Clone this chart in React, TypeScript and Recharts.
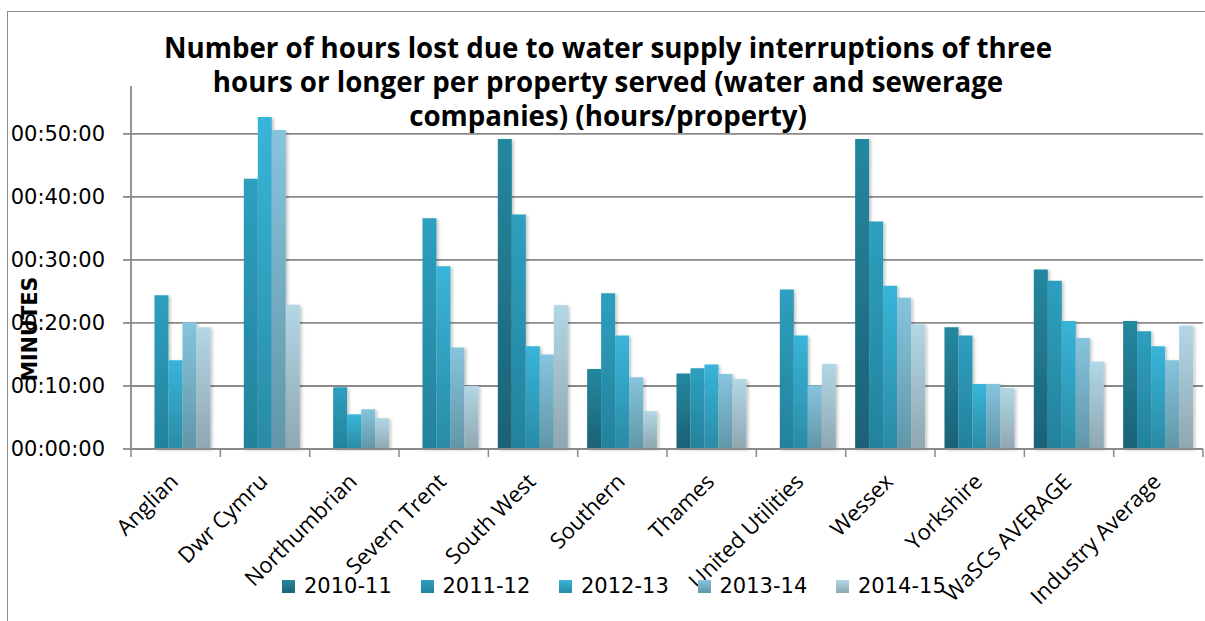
import { BarChart, Bar, XAxis, YAxis, CartesianGrid } from 'recharts';

const companies = [
  'Anglian', 'Dwr Cymru', 'Northumbrian', 'Severn Trent', 'South West', 'Southern',
  'Thames', 'United Utilities', 'Wessex', 'Yorkshire', 'WaSCs AVERAGE', 'Industry Average',
];

// minutes per property
const y2010 = [null, null, null, null, 49.2, 12.7, 12.0, null, 49.2, 19.3, 28.5, 20.3];
const y2011 = [24.4, 42.9, 9.8, 36.6, 37.2, 24.7, 12.8, 25.3, 36.1, 18.0, 26.7, 18.7];
const y2012 = [14.1, 52.7, 5.5, 29.0, 16.3, 18.0, 13.4, 18.0, 25.9, 10.3, 20.3, 16.3];
const y2013 = [20.1, 50.6, 6.3, 16.1, 15.0, 11.4, 11.9, 10.1, 24.0, 10.3, 17.6, 14.1];
const y2014 = [19.3, 22.9, 4.9, 10.0, 22.8, 6.0, 11.1, 13.5, 19.8, 9.7, 13.9, 19.6];

const yTicks = [0, 10, 20, 30, 40, 50];
const YMAX = 57.6;

const titleLines = [
  'Number of hours lost due to water supply interruptions of three',
  'hours or longer per property served (water and sewerage',
  'companies) (hours/property)',
];

const series = [
  { key: 'y2010', name: '2010-11', top: '#24889f', bottom: '#1c6177' },
  { key: 'y2011', name: '2011-12', top: '#2e9fbf', bottom: '#23829c' },
  { key: 'y2012', name: '2012-13', top: '#38b5d9', bottom: '#2a8ba6' },
  { key: 'y2013', name: '2013-14', top: '#86c4dd', bottom: '#6196a8' },
  { key: 'y2014', name: '2014-15', top: '#b2d7e5', bottom: '#8fa7b1' },
];

const data = companies.map((name, i) => ({
  name,
  y2010: y2010[i],
  y2011: y2011[i],
  y2012: y2012[i],
  y2013: y2013[i],
  y2014: y2014[i],
}));

const FONT = '"DejaVu Sans", sans-serif';
const GRID = '#8a8a8a';
const W = 1205;
const H = 621;

const fmt = (v: number) => `00:${String(v).padStart(2, '0')}:00`;

function CategoryTick(props: any) {
  const { x, y, payload, index } = props;
  const half = 89.25 / 2;
  return (
    <g>
      <line x1={x - half} y1={y - 8} x2={x - half} y2={y} stroke={GRID} strokeWidth={1.5} />
      {index === companies.length - 1 && (
        <line x1={x + half} y1={y - 8} x2={x + half} y2={y} stroke={GRID} strokeWidth={1.5} />
      )}
      <text
        transform={`translate(${x + 4},${y + 26}) rotate(-45)`}
        textAnchor="end"
        fontFamily='"Open Sans", sans-serif'
        fontSize={22}
        fill="#000"
      >
        {payload.value}
      </text>
    </g>
  );
}

const gridRows = ({ offset }: any) =>
  yTicks.map((t) => offset.top + offset.height * (1 - t / YMAX));

export default function App() {
  return (
    <div style={{ position: 'absolute', left: 0, top: 0, width: W, height: H, background: '#fff', overflow: 'hidden' }}>
      <div style={{ position: 'absolute', left: 7, top: 11, width: W, height: H, borderLeft: '1.5px solid #8c8c8c', borderTop: '1.5px solid #8c8c8c' }} />
      <BarChart
        width={W}
        height={H}
        data={data}
        margin={{ top: 86, right: 2, left: 0, bottom: 0 }}
        barCategoryGap="10.6%"
        barGap={0}
      >
        <defs>
          {series.map((s) => (
            <linearGradient key={s.key} id={`g-${s.key}`} x1="0" y1="0" x2="0" y2="1">
              <stop offset="0%" stopColor={s.top} />
              <stop offset="100%" stopColor={s.bottom} />
            </linearGradient>
          ))}
          <filter id="shadow" x="-20%" y="-5%" width="160%" height="110%">
            <feDropShadow dx="2" dy="1" stdDeviation="1.5" floodColor="#000" floodOpacity="0.22" />
          </filter>
        </defs>
        <CartesianGrid
          vertical={false}
          stroke={GRID}
          strokeWidth={1.8}
          horizontalCoordinatesGenerator={gridRows}
        />
        <XAxis
          dataKey="name"
          height={172}
          interval={0}
          axisLine={{ stroke: GRID, strokeWidth: 1.8 }}
          tickLine={false}
          tick={<CategoryTick />}
        />
        <YAxis
          width={131}
          domain={[0, YMAX]}
          ticks={yTicks}
          tickFormatter={fmt}
          axisLine={{ stroke: GRID, strokeWidth: 1.8 }}
          tickLine={{ stroke: GRID, strokeWidth: 1.8 }}
          tickSize={8}
          tickMargin={18}
          tick={{ fontFamily: FONT, fontSize: 21, fill: '#000' }}
        />
        {series.map((s) => (
          <Bar
            key={s.key}
            dataKey={s.key}
            name={s.name}
            fill={`url(#g-${s.key})`}
            filter="url(#shadow)"
            isAnimationActive={false}
          />
        ))}
      </BarChart>
      {titleLines.map((line, i) => (
        <div
          key={i}
          style={{
            position: 'absolute', left: 0, top: 30 + i * 34, width: 1216, height: 34, overflow: 'visible',
            textAlign: 'center', whiteSpace: 'nowrap',
            fontFamily: '"Open Sans", sans-serif', fontWeight: 'bold', fontSize: 27.7, lineHeight: '34px', color: '#000',
          }}
        >
          {line}
        </div>
      ))}
      <div
        style={{
          position: 'absolute', left: 30 - 100, top: 329 - 13, width: 200, textAlign: 'center',
          transform: 'rotate(-90deg)', fontFamily: FONT, fontWeight: 'bold', fontSize: 20.5,
          lineHeight: '26px', color: '#000',
        }}
      >
        MINUTES
      </div>
      <div style={{ position: 'absolute', left: 282, top: 573, display: 'flex' }}>
        {series.map((s) => (
          <div key={s.key} style={{ width: 138.5, display: 'flex', alignItems: 'center', height: 26 }}>
            <div style={{ width: 13, height: 13, background: `linear-gradient(${s.top}, ${s.bottom})`, marginRight: 9 }} />
            <span style={{ fontFamily: FONT, fontSize: 21, color: '#000' }}>{s.name}</span>
          </div>
        ))}
      </div>
    </div>
  );
}
